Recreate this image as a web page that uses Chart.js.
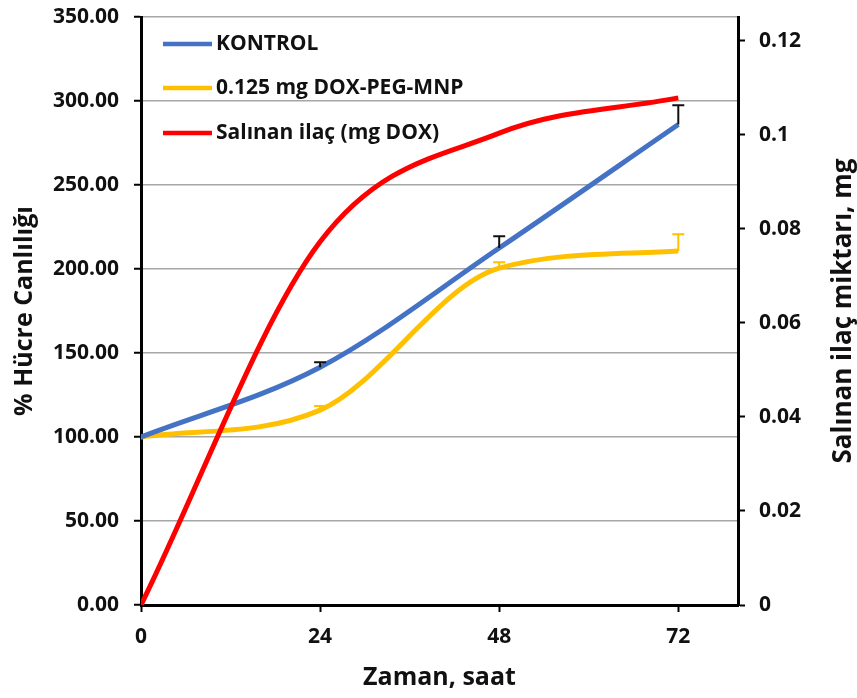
<!DOCTYPE html>
<html>
<head>
<meta charset="utf-8">
<script src="https://cdn.jsdelivr.net/npm/chart.js@4/dist/chart.umd.min.js"></script>
<style>
  body { margin: 0; background: #fff; }
  #wrap { width: 857px; height: 698px; }
</style>
</head>
<body>
<div id="wrap"><canvas id="grafik"></canvas></div>
<script>
// ===== veriler =====
const saatler = [0, 24, 48, 72];
const xTicks = [0, 24, 48, 72];
const kontrol = [100, 141.5, 212.5, 286];
const kontrolHata = [0, 3, 7, 11.5];
const doxPeg = [100, 116, 200.5, 210.7];
const doxPegHata = [0, 2.5, 3.5, 10];
const salinan = [0, 0.0772, 0.1003, 0.1078];
const sagTicks = [0, 0.02, 0.04, 0.06, 0.08, 0.1, 0.12];

const FONT = "'Open Sans', 'DejaVu Sans', sans-serif";
const pts = (ys) => saatler.map((x, i) => ({ x: x, y: ys[i] }));

// hata cubuklari (sadece + yonu)
const hataCubugu = {
    id: 'hataCubugu',
    afterDatasetsDraw(chart) {
        const ctx = chart.ctx;
        chart.data.datasets.forEach((ds, di) => {
            if (!ds.hata) return;
            const meta = chart.getDatasetMeta(di);
            const sc = chart.scales[ds.yAxisID];
            ctx.save();
            ctx.strokeStyle = ds.hataRenk;
            ctx.lineWidth = 2;
            meta.data.forEach((p, i) => {
                const e = ds.hata[i];
                if (!e) return;
                const top = sc.getPixelForValue(ds.data[i].y + e);
                ctx.beginPath();
                ctx.moveTo(p.x, p.y);
                ctx.lineTo(p.x, top);
                ctx.moveTo(p.x - 6, top);
                ctx.lineTo(p.x + 6, top);
                ctx.stroke();
            });
            ctx.restore();
        });
    }
};

// lejant + sag eksen basligi
const ekstra = {
    id: 'ekstra',
    afterDraw(chart) {
        const ctx = chart.ctx;
        ctx.save();
        const satirY = [44, 88, 133];
        chart.data.datasets.forEach((ds, i) => {
            ctx.strokeStyle = ds.borderColor;
            ctx.lineWidth = 4.5;
            ctx.beginPath();
            ctx.moveTo(163, satirY[i]);
            ctx.lineTo(212, satirY[i]);
            ctx.stroke();
            ctx.fillStyle = '#111';
            ctx.font = 'bold 21px ' + FONT;
            ctx.textAlign = 'left';
            ctx.textBaseline = 'middle';
            ctx.fillText(ds.label, 216, satirY[i]);
        });
        // sag eksen basligi
        const a = chart.chartArea;
        ctx.translate(844, (a.top + a.bottom) / 2);
        ctx.rotate(-Math.PI / 2);
        ctx.font = 'bold 26px ' + FONT;
        ctx.textAlign = 'center';
        ctx.textBaseline = 'middle';
        ctx.fillStyle = '#111';
        ctx.fillText('Salınan ilaç miktarı, mg', 0, 0);
        ctx.restore();
    }
};

// dikey eksenlerde etiket payini sifirla, ust bosluk layout'tan gelsin
const dikeyFit = (genislik) => (s) => {
    s.width = genislik;
    s.paddingTop = 0;
    s.paddingBottom = 0;
};

new Chart(document.getElementById('grafik').getContext('2d'), {
    type: 'line',
    data: {
        datasets: [{
            label: 'KONTROL',
            data: pts(kontrol),
            yAxisID: 'y',
            borderColor: '#4472C4',
            hata: kontrolHata,
            hataRenk: '#111',
            order: 1
        }, {
            label: '0.125 mg DOX-PEG-MNP',
            data: pts(doxPeg),
            yAxisID: 'y',
            borderColor: '#FFC000',
            hata: doxPegHata,
            hataRenk: '#FFC000',
            order: 2
        }, {
            label: 'Salınan ilaç (mg DOX)',
            data: pts(salinan),
            yAxisID: 'y2',
            borderColor: '#FF0000',
            order: 0
        }]
    },
    options: {
        responsive: true,
        maintainAspectRatio: false,
        animation: false,
        layout: { padding: { top: 17, left: 0, right: 0, bottom: 0 } },
        elements: {
            line: { borderWidth: 5, cubicInterpolationMode: 'monotone', fill: false },
            point: { radius: 0, hoverRadius: 0 }
        },
        plugins: { legend: { display: false }, tooltip: { enabled: false } },
        scales: {
            x: {
                type: 'linear',
                min: 0, max: 80,
                afterBuildTicks: (s) => { s.ticks = xTicks.map(v => ({ value: v })); },
                afterFit: (s) => { s.height = 93; },
                grid: { drawOnChartArea: false, tickColor: '#000', tickLength: 7, tickWidth: 2 },
                border: { color: '#000', width: 3 },
                ticks: { color: '#111', padding: 12, font: { family: FONT, size: 21, weight: 'bold' } },
                title: {
                    display: true, text: 'Zaman, saat', color: '#111',
                    padding: { top: 0, bottom: 5 },
                    font: { family: FONT, size: 25, weight: 'bold' }
                }
            },
            y: {
                position: 'left',
                min: 0, max: 350,
                ticks: {
                    stepSize: 50, color: '#111', padding: 15,
                    callback: (v) => v.toFixed(2),
                    font: { family: FONT, size: 21, weight: 'bold' }
                },
                afterFit: dikeyFit(141),
                grid: { color: '#a6a6a6', lineWidth: 1.5, tickColor: '#000', tickLength: 7, tickWidth: 2 },
                border: { color: '#000', width: 3 },
                title: {
                    display: true, text: '% Hücre Canlılığı', color: '#111',
                    padding: { top: 10, bottom: 0 },
                    font: { family: FONT, size: 25, weight: 'bold' }
                }
            },
            y2: {
                position: 'right',
                min: 0, max: 0.125,
                afterBuildTicks: (s) => { s.ticks = sagTicks.map(v => ({ value: v })); },
                afterFit: dikeyFit(119),
                ticks: {
                    color: '#111', padding: 14,
                    callback: (v) => String(Number(v.toFixed(2))),
                    font: { family: FONT, size: 21, weight: 'bold' }
                },
                grid: { drawOnChartArea: false, tickColor: '#000', tickLength: 7, tickWidth: 2 },
                border: { color: '#000', width: 3 }
            }
        }
    },
    plugins: [hataCubugu, ekstra]
});
</script>
</body>
</html>
